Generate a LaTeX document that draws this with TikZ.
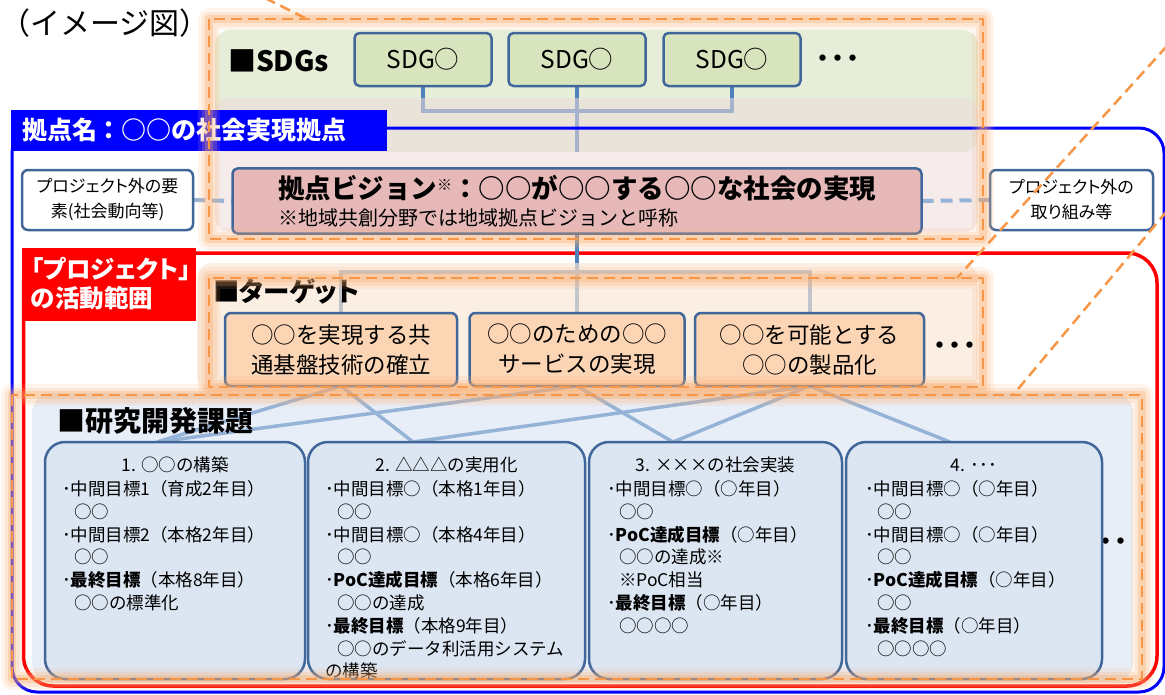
\documentclass[tikz,border=0pt]{standalone}
\usepackage{fontspec}
\setmainfont{Noto Sans CJK JP}
\newfontfamily\jpp[RawFeature=+palt]{Noto Sans CJK JP}
\definecolor{boxblue}{HTML}{41679A}
\definecolor{connblue}{HTML}{4F81BD}
\definecolor{connlight}{HTML}{95B3D7}
\definecolor{greenpanel}{HTML}{E6EED9}
\definecolor{pinkpanel}{RGB}{237,219,219}
\definecolor{sdgfill}{HTML}{D7E4BD}
\definecolor{visfill}{HTML}{E6B9B8}
\definecolor{peachpanel}{RGB}{249,230,212}
\definecolor{tgtfill}{HTML}{FCD5B5}
\definecolor{respanel}{HTML}{E8EEF7}
\definecolor{resfill}{HTML}{DCE6F2}
\definecolor{orng}{HTML}{F79646}
\definecolor{pblue}{HTML}{0000FF}
\definecolor{pred}{HTML}{FF0000}
\newcommand\myfs[2]{\fontsize{#1}{#2}\selectfont}
\newcommand\subind{\hspace*{12pt}}
\newcommand\glowrect[2]{%
  \draw[orng!75, line width=22pt, opacity=0.14] #1 rectangle #2;
  \draw[orng!75, line width=15pt, opacity=0.2] #1 rectangle #2;
  \draw[orng!85, line width=8pt, opacity=0.3] #1 rectangle #2;
  \draw[orngdash] #1 rectangle #2;}
\pgfdeclarelayer{bg}
\pgfsetlayers{bg,main}
\begin{document}
\begin{tikzpicture}[x=1pt,y=-1pt,line join=round,
 every node/.style={inner sep=0pt, outer sep=0pt},
 boxline/.style={draw=boxblue, line width=2.5pt},
 sdgbox/.style={boxline, fill=sdgfill, rounded corners=5pt, minimum width=137pt, minimum height=53pt, font=\myfs{24.5}{27}},
 visbox/.style={boxline, fill=visfill, rounded corners=5pt, minimum width=689pt, minimum height=58pt, font=\myfs{20}{27}},
 outbox/.style={boxline, fill=white, rounded corners=6pt, minimum height=60pt, align=center, font=\jpp\myfs{17}{25}},
 tgtbox/.style={boxline, fill=tgtfill, rounded corners=6pt, minimum height=73pt, align=center, font=\myfs{22.5}{30}},
 resbox/.style={boxline, fill=resfill, rounded corners=20pt, minimum height=237pt},
 reshead/.style={anchor=base, font=\myfs{17.5}{22.8}},
 reslist/.style={anchor=base west, font=\myfs{17.5}{22.8}},
 conn/.style={draw=connblue, line width=4pt},
 connl/.style={draw=connlight, line width=3.5pt},
 dashconn/.style={draw=connlight, line width=4pt, dash pattern=on 12pt off 7pt},
 orngdash/.style={draw=orng, line width=2.5pt, dash pattern=on 11pt off 6pt},
 dotstext/.style={font=\myfs{30}{30}\bfseries},
 seclabel/.style={anchor=base west, font=\myfs{28}{30}\bfseries},
 headtext/.style={anchor=base west, text=white},
]
\useasboundingbox (0,0) rectangle (1165,694);

% ---------- coordinates ----------
\coordinate (sj) at (577,111);
\coordinate (se) at (577,152);
\coordinate (vj) at (577,272);
\coordinate (r1) at (157,442);
\coordinate (r2) at (413,442);
\coordinate (r3) at (673,442);
\coordinate (r4) at (950,442);
\coordinate (d1a) at (265,-2);
\coordinate (d1b) at (307,19);
\coordinate (d2a) at (1167,46);
\coordinate (d2b) at (957,278);
\coordinate (d3a) at (1167,211);
\coordinate (d3b) at (1013,395);

% ---------- title ----------
\node[anchor=base west, font=\myfs{30}{33}] (title) at (0.5,34) {（イメージ図）};

% ---------- main nodes ----------
\node[seclabel] (sdgl) at (228,71) {■SDGs};
\node[sdgbox] (S1) at (423,59.5) {SDG○};
\node[sdgbox] (S2) at (577,59.5) {SDG○};
\node[sdgbox] (S3) at (732,59.5) {SDG○};
\node[dotstext] (sdgdots) at (838,62) {･･･};

\node[visbox] (V) at (577,201) {\begin{tabular}{@{}l@{}}%
\rule{0pt}{30pt}{\myfs{26.5}{28}\bfseries 拠点ビジョン\raisebox{8pt}{\myfs{15}{15}※}：○○が○○する○○な社会の実現}\\
{\myfs{20}{22}※地域共創分野では地域拠点ビジョンと呼称}\end{tabular}};

\node[outbox, minimum width=171pt] (OL) at (107.5,200) {プロジェクト外の要\\素(社会動向等)};
\node[outbox, minimum width=163pt] (OR) at (1071.5,200) {プロジェクト外の\\取り組み等};

\node[headtext, font=\myfs{25}{28}\bfseries] (bhead) at (22,139.5) {拠点名：○○の社会実現拠点};
\node[headtext, font=\jpp\myfs{24.5}{29}\bfseries] (rhead) at (31,278) {\begin{tabular}[t]{@{}l@{}}「プロジェクト」\\の活動範囲\end{tabular}};

\node[seclabel, font=\jpp\myfs{26.5}{30}\bfseries] (tgtl) at (213,301) {■ターゲット};
\node[tgtbox, minimum width=232pt] (T1) at (341,349.5) {○○を実現する共\\通基盤技術の確立};
\node[tgtbox, minimum width=215pt] (T2) at (577,349.5) {○○のための○○\\サービスの実現};
\node[tgtbox, minimum width=229pt] (T3) at (809.5,349.5) {○○を可能とする\\○○の製品化};
\node[dotstext] (tgtdots) at (955,349) {･･･};

\node[seclabel] (resl) at (57,431) {■研究開発課題};
\node[dotstext] (resdots) at (1106,545) {･･･};
\node[resbox, minimum width=260pt] (R1) at (175,560.5) {};
\node[resbox, minimum width=277pt] (R2) at (446.5,560.5) {};
\node[resbox, minimum width=253pt] (R3) at (715.5,560.5) {};
\node[resbox, minimum width=256pt] (R4) at (974,560.5) {};

\node[reshead] (R1h) at (175,471.5) {1. ○○の構築};
\node[reshead] (R2h) at (446.5,471.5) {2. △△△の実用化};
\node[reshead] (R3h) at (715.5,471.5) {3. ×××の社会実装};
\node[reshead] (R4h) at (974,471.5) {4. ･･･};

\node[reslist] (R1l) at (62,495.5) {\begin{tabular}[t]{@{}l@{}}%
･中間目標1（育成2年目）\\
\subind ○○\\
･中間目標2（本格2年目）\\
\subind ○○\\
･\textbf{最終目標}（本格8年目）\\
\subind ○○の標準化\end{tabular}};

\node[reslist] (R2l) at (325,495.5) {\begin{tabular}[t]{@{}l@{}}%
･中間目標○（本格1年目）\\
\subind ○○\\
･中間目標○（本格4年目）\\
\subind ○○\\
･\textbf{PoC達成目標}（本格6年目）\\
\subind ○○の達成\\
･\textbf{最終目標}（本格9年目）\\
\subind ○○のデータ利活用システム\\
の構築\end{tabular}};

\node[reslist] (R3l) at (607,495.5) {\begin{tabular}[t]{@{}l@{}}%
･中間目標○（○年目）\\
\subind ○○\\
･\textbf{PoC達成目標}（○年目）\\
\subind ○○の達成※\\
\subind ※PoC相当\\
･\textbf{最終目標}（○年目）\\
\subind ○○○○\end{tabular}};

\node[reslist] (R4l) at (865,495.5) {\begin{tabular}[t]{@{}l@{}}%
･中間目標○（○年目）\\
\subind ○○\\
･中間目標○（○年目）\\
\subind ○○\\
･\textbf{PoC達成目標}（○年目）\\
\subind ○○\\
･\textbf{最終目標}（○年目）\\
\subind ○○○○\end{tabular}};

% ---------- background layer ----------
\begin{pgfonlayer}{bg}
\fill[greenpanel, rounded corners=15pt] (215,30) rectangle (978,152);
\draw[conn] (S1.south) |- (sj) -| (S3.south);
\draw[conn] (S2.south) -- (se);
\fill[pinkpanel, opacity=0.56, rounded corners=15pt] (215,98) rectangle (978,232);
\draw[pblue, line width=3pt, rounded corners=25pt] (12,128) rectangle (1164,692);
\fill[pblue] (11,110) rectangle (387,151);
\draw[pred, line width=3.5pt, rounded corners=30pt] (23.5,253) rectangle (1157,686);
\fill[pred] (22,248) rectangle (196,321);
\draw[conn] (V.south) -- (T2.north);
\draw[conn] (T1.north) |- (vj) -| (T3.north);
\fill[peachpanel, opacity=0.68, rounded corners=15pt] (197,263) rectangle (977,392);
\fill[respanel, rounded corners=20pt] (32,393) rectangle (1133,682);
\draw[connl] (T1.south) -- (r1);
\draw[connl] (T1.south) -- (r2);
\draw[connl] (T2.south) -- (r1);
\draw[connl] (T2.south) -- (r3);
\draw[connl] (T3.south) -- (r2);
\draw[connl] (T3.south) -- (r3);
\draw[connl] (T3.south) -- (r4);
\draw[dashconn] (OL.east) -- (V.west);
\draw[dashconn] (V.east) -- (OR.west);
\end{pgfonlayer}

% ---------- glow boxes ----------
\glowrect{(209,19)}{(983,239)}
\glowrect{(209,278)}{(983,387)}
\glowrect{(12,395)}{(1142,679)}

% ---------- diagonal dashed lines ----------
\draw[orngdash] (d1a) -- (d1b);
\draw[orngdash] (d2a) -- (d2b);
\draw[orngdash] (d3a) -- (d3b);
\end{tikzpicture}
\end{document}
